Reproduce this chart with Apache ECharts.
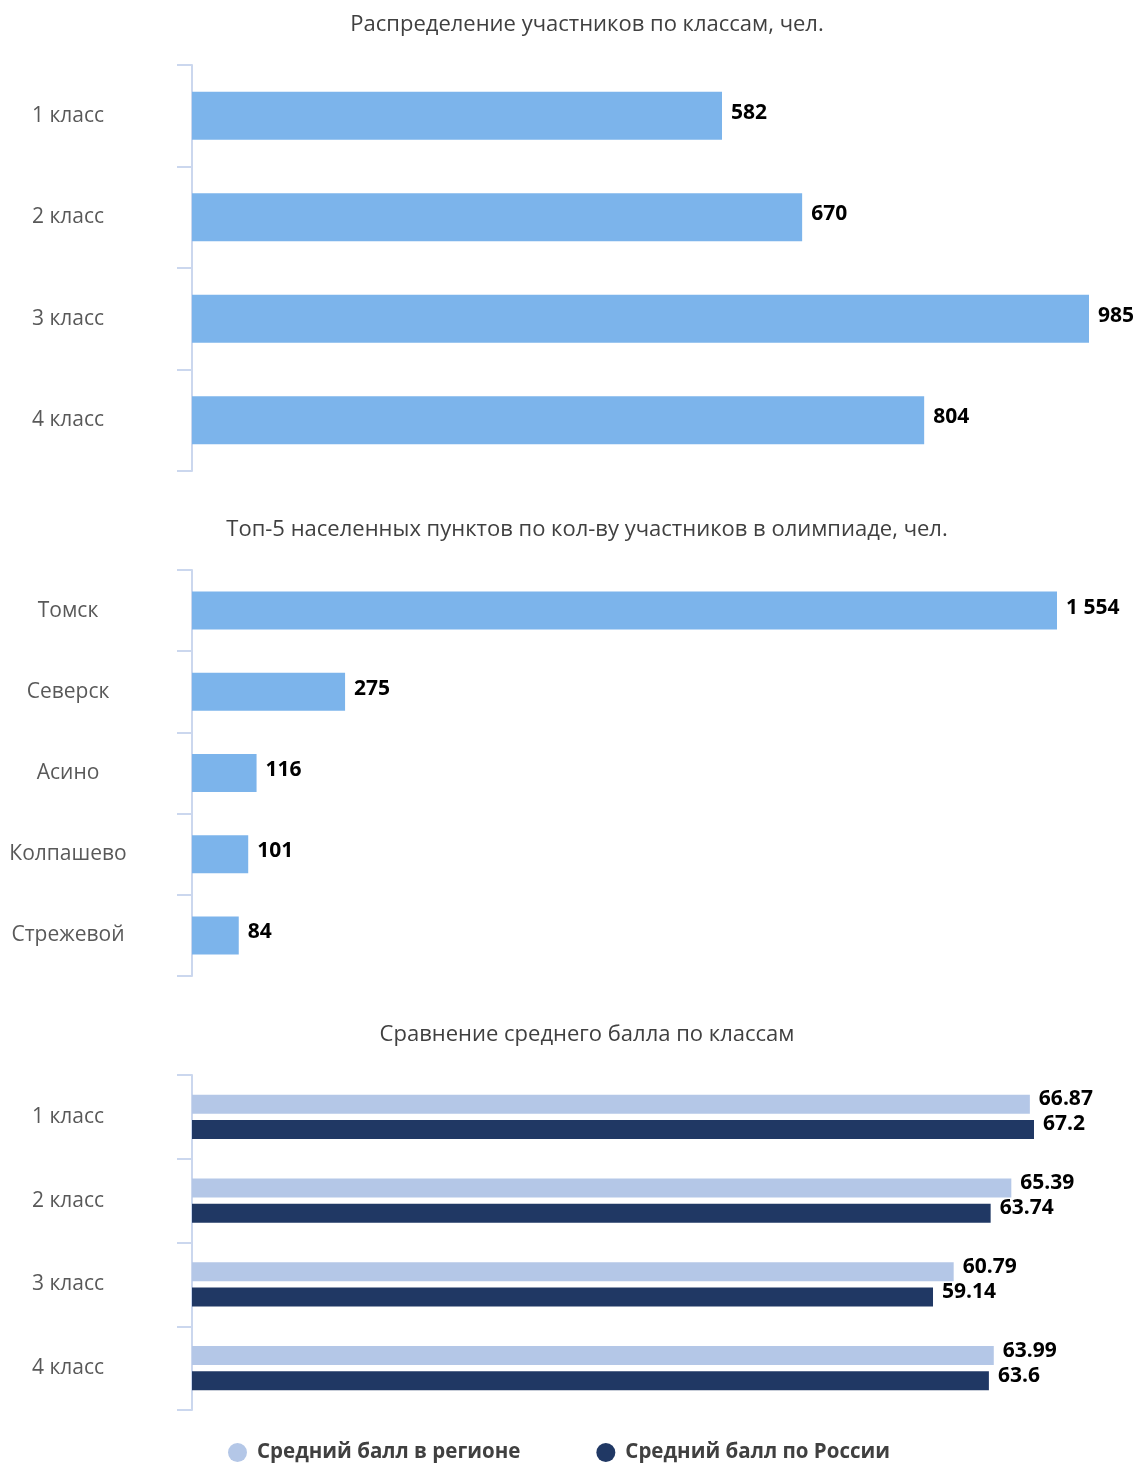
<!DOCTYPE html>
<html>
<head>
<meta charset="utf-8">
<script src="https://cdn.jsdelivr.net/npm/echarts@6/dist/echarts.min.js"></script>
<style>
  html, body { margin: 0; padding: 0; background: #ffffff; }
  #chart { width: 1141px; height: 1463px; }
</style>
</head>
<body>
<div id="chart"></div>
<script>
// Participants by grade
const gradeCategories = ['1 класс', '2 класс', '3 класс', '4 класс'];
const gradeCounts = [582, 670, 985, 804];

// Top-5 towns by number of participants
const townCategories = ['Томск', 'Северск', 'Асино', 'Колпашево', 'Стрежевой'];
const townCounts = [1554, 275, 116, 101, 84];

// Average score by grade: region vs Russia
const scoreCategories = ['1 класс', '2 класс', '3 класс', '4 класс'];
const regionScores = [66.87, 65.39, 60.79, 63.99];
const russiaScores = [67.2, 63.74, 59.14, 63.6];

const FONT = '"Open Sans", "Noto Sans", sans-serif';
const AXIS_COLOR = '#cbd7ee';
const BAR_BLUE = '#7cb4eb';
const LIGHT = '#b4c7e7';
const NAVY = '#203864';

function thousands(v) {
  return String(v).replace(/\B(?=(\d{3})+(?!\d))/g, ' ');
}

function catAxis(idx, data) {
  return {
    type: 'category', gridIndex: idx, data: data, inverse: true,
    axisLine: { show: true, lineStyle: { color: AXIS_COLOR, width: 2 } },
    axisTick: { show: true, length: 15, lineStyle: { color: AXIS_COLOR, width: 2 } },
    axisLabel: { align: 'center', margin: 124, color: '#595959', fontSize: 21, fontFamily: FONT }
  };
}

function valAxis(idx, max) {
  return { type: 'value', gridIndex: idx, min: 0, max: max, show: false, splitLine: { show: false } };
}

const labelStyle = { show: true, position: 'right', distance: 9, color: '#000', fontWeight: 'bold', fontSize: 21, fontFamily: FONT };
const titleStyle = { color: '#404040', fontSize: 22, fontWeight: 'normal', fontFamily: FONT };

const option = {
  animation: false,
  backgroundColor: '#ffffff',
  title: [
    { text: 'Распределение участников по классам, чел.', left: 582, top: 9, textAlign: 'center', textStyle: titleStyle },
    { text: 'Топ-5 населенных пунктов по кол-ву участников в олимпиаде, чел.', left: 582, top: 514, textAlign: 'center', textStyle: titleStyle },
    { text: 'Сравнение среднего балла по классам', left: 582, top: 1019, textAlign: 'center', textStyle: titleStyle }
  ],
  grid: [
    { left: 192, top: 65, width: 897, height: 406 },
    { left: 192, top: 570, width: 865, height: 406 },
    { left: 192, top: 1075, width: 842, height: 335 }
  ],
  yAxis: [catAxis(0, gradeCategories), catAxis(1, townCategories), catAxis(2, scoreCategories)],
  xAxis: [valAxis(0, 985), valAxis(1, 1554), valAxis(2, 67.2)],
  legend: {
    top: 1437, left: 223, itemGap: 76, icon: 'circle', itemWidth: 19, itemHeight: 19,
    data: ['Средний балл в регионе', 'Средний балл по России'],
    textStyle: { color: '#404040', fontWeight: 'bold', fontSize: 20.5, fontFamily: FONT, padding: [0, 0, 0, 5] }
  },
  series: [
    { type: 'bar', xAxisIndex: 0, yAxisIndex: 0, data: gradeCounts, barWidth: 48,
      itemStyle: { color: BAR_BLUE }, label: Object.assign({}, labelStyle, { offset: [0, -3] }) },
    { type: 'bar', xAxisIndex: 1, yAxisIndex: 1, data: townCounts, barWidth: 38,
      itemStyle: { color: BAR_BLUE },
      label: Object.assign({}, labelStyle, { offset: [0, -3], formatter: p => thousands(p.value) }) },
    { name: 'Средний балл в регионе', type: 'bar', xAxisIndex: 2, yAxisIndex: 2, data: regionScores,
      barWidth: 19, barGap: '32%', itemStyle: { color: LIGHT },
      label: Object.assign({}, labelStyle, { distance: 9, offset: [0, -5] }) },
    { name: 'Средний балл по России', type: 'bar', xAxisIndex: 2, yAxisIndex: 2, data: russiaScores,
      barWidth: 19, barGap: '32%', itemStyle: { color: NAVY },
      label: Object.assign({}, labelStyle, { distance: 9, offset: [0, -5] }) }
  ]
};

const chart = echarts.init(document.getElementById('chart'), null, { renderer: 'canvas' });
chart.setOption(option);
</script>
</body>
</html>
